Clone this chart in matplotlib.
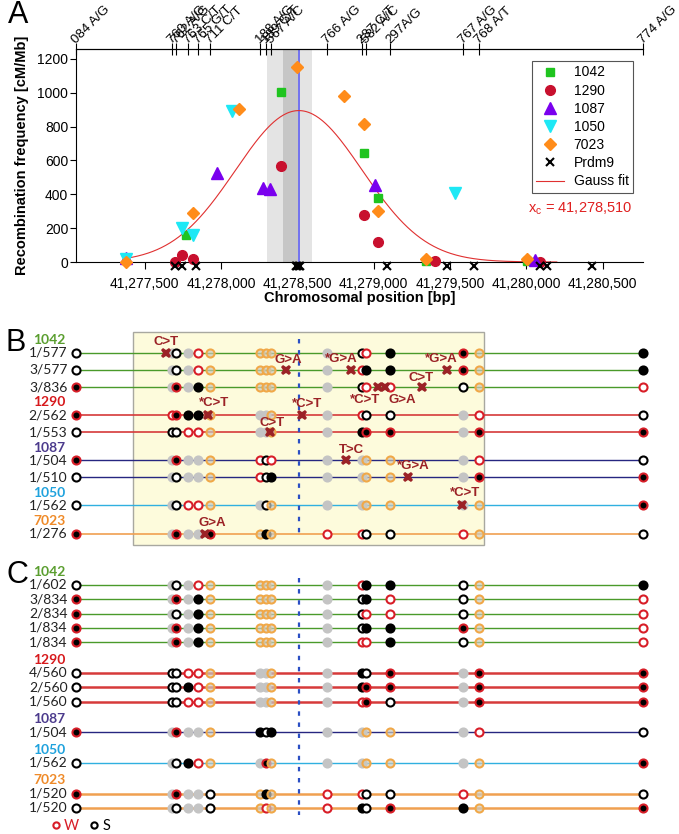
import matplotlib.pyplot as plt
import numpy as np
from matplotlib.lines import Line2D
from matplotlib.patches import Rectangle
from matplotlib.ticker import FuncFormatter

plt.rcParams['font.family'] = ['Liberation Sans', 'DejaVu Sans']
plt.rcParams['mathtext.fontset'] = 'custom'
plt.rcParams['mathtext.rm'] = 'Liberation Sans'

# ---- SNP markers (top axis of A, columns of B and C) ----
snp_pos = [41277052, 41277682, 41277707, 41277787, 41277847, 41277931,
           41278256, 41278295, 41278330, 41278693, 41278923, 41278953,
           41279107, 41279586, 41279690, 41280763]
snp_labels = ['084 A/G', '760 A/G', '762 A/G', '763 C/T', '765 G/T', '711 C/T',
              '188 A/G', '189 C/T', '567 A/C', '766 A/G', '287 C/T', '582 A/C',
              '297A/G', '767 A/G', '768 A/T', '774 A/G']
x_c = 41278510

# ---- panel A: recombination frequency per cross ----
pos_1042 = [41277773, 41278390, 41278934, 41279028, 41279344, 41280002]
rf_1042 = [162, 1002, 646, 376, 5, 5]
pos_1290 = [41277696, 41277746, 41277816, 41278390, 41278934, 41279028, 41279399, 41280089]
rf_1290 = [0, 40, 20, 569, 277, 119, 6, 0]
pos_1087 = [41277376, 41277975, 41278274, 41278320, 41279011, 41280056]
rf_1087 = [25, 528, 435, 429, 455, 10]
pos_1050 = [41277376, 41277746, 41277816, 41278074, 41279534]
rf_1050 = [15, 200, 158, 894, 409]
pos_7023 = [41277376, 41277816, 41278121, 41278499, 41278804, 41278934, 41279028,
            41279344, 41280006]
rf_7023 = [0, 290, 907, 1152, 979, 814, 300, 20, 20]
prdm9_pos = [41277696, 41277746, 41277838, 41278492, 41278500, 41278508, 41278516,
             41279087, 41279484, 41279658, 41280089, 41280139, 41280433]

gauss_amp = 895
gauss_sigma = 415
gauss_range = (41277376, 41280200)

# ---- panels B and C: haplotypes ----
# columns follow snp_pos; W red ring, S black ring, R red/black, B black,
# G grey (uninformative), O orange (not typed)
b_rows = [
    ('1042', '1/577', 'SGSGWOOOOGSWBROB'),
    ('1042', '3/577', 'SGSGWOOOOGWBBROB'),
    ('1042', '3/836', 'RGRGBOOOOGSWWSOW'),
    ('1290', '2/562', 'RWRBBOGGOGWSSGWS'),
    ('1290', '1/553', 'SSSWWOGGOGBRRGRR'),
    ('1087', '1/504', 'RGRGGOWSWGGOOGWS'),
    ('1087', '1/510', 'SGSGGOWSBGGOOGRR'),
    ('1050', '1/562', 'SGSWWOGSOGGOOGOR'),
    ('7023', '1/276', 'RGRGGROBOWWSSWOS'),
]
c_rows = [
    ('1042', '1/602', 'SGSGWOOOOGWBBSOB'),
    ('1042', '3/834', 'RGRGBOOOOGSBWSOW'),
    ('1042', '2/834', 'RGSGBOOOOGSWWSOW'),
    ('1042', '1/834', 'RGRGBOOOOGSBBROW'),
    ('1042', '1/834', 'RGRGBOOOOGWWBSOW'),
    ('1290', '4/560', 'SSSWWOGGOGBSRGRR'),
    ('1290', '2/560', 'SSSBWOGGOGBRRGRR'),
    ('1290', '1/560', 'SSSWWOGGOGWRSGRR'),
    ('1087', '1/504', 'RGRGGOBSBGGOOGWS'),
    ('1050', '1/562', 'SGSBWOGROGGOOGOR'),
    ('7023', '1/520', 'RGRGGSOBOWWSSWOS'),
    ('7023', '1/520', 'SGSGGSOWOWBSRBOR'),
]
# de novo mutations in B: row index, position, change
mut_row = [0, 1, 1, 1, 2, 2, 2, 3, 3, 4, 5, 6, 7, 8]
mut_pos = [41277638, 41278426, 41278850, 41279483, 41279031, 41279075, 41279315,
           41277917, 41278529, 41278318, 41278822, 41279222, 41279577, 41277897]
mut_text = ['C>T', 'G>A', '*G>A', '*G>A', '*C>T', 'G>A', 'C>T',
            '*C>T', '*C>T', 'C>T', 'T>C', '*G>A', '*C>T', 'G>A']
# label offsets in pixels (right, up)
mut_off = [(0, 11), (2, 10), (-9, 11), (-6, 11), (-13, -13), (17, -13), (-1, 9),
           (6, 12), (5, 11), (3, 9), (5, 10), (6, 11), (3, 12), (7, 10)]
box_bp = (41277425, 41279725)

group_colors = {'1042': '#5a9e2f', '1290': '#d7191c', '1087': '#4b3a8c',
                '1050': '#1fa2dd', '7023': '#ef8a28'}
line_colors = {'1042': '#4a9a2a', '1290': '#d63a3a', '1087': '#262680',
               '1050': '#30b0e0', '7023': '#f0a050'}
RED = '#d81e28'
styles = {
    'W': dict(mfc='white', mec=RED),
    'S': dict(mfc='white', mec='black'),
    'R': dict(mfc='black', mec=RED),
    'B': dict(mfc='black', mec='black'),
    'G': dict(mfc='#c4c4c4', mec='#c4c4c4'),
    'O': dict(mfc=(0.80, 0.79, 0.74, 0.7), mec='#f0a848'),
}

W, H = 679, 834
xlim = (41277050, 41280765)
fig = plt.figure(figsize=(W / 100, H / 100), dpi=100)

# ================= panel A =================
axA = fig.add_axes([76 / W, 1 - 262 / H, 567 / W, 213 / H])
axA.set_xlim(xlim)
axA.set_ylim(0, 1259)
axA.axvspan(41278302, 41278597, color='#e4e4e4', lw=0, zorder=0)
axA.axvspan(41278403, 41278505, color='#c6c6c6', lw=0, zorder=0)
axA.axvline(x_c, color='#6868f0', lw=1.3, zorder=1)

xg = np.linspace(gauss_range[0], gauss_range[1], 400)
yg = gauss_amp * np.exp(-(xg - x_c) ** 2 / (2 * gauss_sigma ** 2))

h1 = axA.plot(pos_1042, rf_1042, 's', color='#1fc41f', ms=5.8, ls='none', clip_on=False, zorder=3)[0]
h2 = axA.plot(pos_1290, rf_1290, 'o', color='#c8102e', ms=7.0, ls='none', clip_on=False, zorder=3)[0]
h3 = axA.plot(pos_1087, rf_1087, '^', color='#7a00ee', ms=8.0, ls='none', clip_on=False, zorder=3)[0]
h4 = axA.plot(pos_1050, rf_1050, 'v', color='#1ee8f5', ms=8.2, ls='none', clip_on=False, zorder=3)[0]
h5 = axA.plot(pos_7023, rf_7023, 'D', color='#ff8c1a', ms=6.2, ls='none', clip_on=False, zorder=3)[0]
h6 = axA.plot(prdm9_pos, [-22] * len(prdm9_pos), 'x', color='black', ms=6, mew=1.5,
              ls='none', clip_on=False, zorder=4)[0]
h7 = axA.plot(xg, yg, color='#e03030', lw=0.8, zorder=2)[0]

axA.set_xticks([41277500, 41278000, 41278500, 41279000, 41279500, 41280000, 41280500])
axA.xaxis.set_major_formatter(FuncFormatter(lambda v, p: f'{v:,.0f}'))
axA.set_yticks([0, 200, 400, 600, 800, 1000, 1200])
axA.tick_params(axis='x', length=5, width=0.8, pad=6, labelsize=10)
axA.tick_params(axis='y', length=4, width=0.8, pad=1.5, labelsize=10)
axA.spines['right'].set_visible(False)
axA.set_xlabel('Chromosomal position [bp]', fontsize=10.5, fontweight='bold')
axA.xaxis.set_label_coords(0.5, -0.135)
axA.set_ylabel('Recombination frequency [cM/Mb]', fontsize=10.5, fontweight='bold')
axA.yaxis.set_label_coords(-0.083, 0.5)

# SNP ticks on top
axT = axA.twiny()
axT.set_xlim(xlim)
axT.set_xticks(snp_pos)
axT.tick_params(axis='x', direction='inout', length=8, width=0.8, labeltop=False)
for s in ['left', 'right', 'bottom']:
    axT.spines[s].set_visible(False)
xtr = axA.get_xaxis_transform()
for p, lab in zip(snp_pos, snp_labels):
    axA.text(p, 1.025, lab, transform=xtr, rotation=45, rotation_mode='anchor',
             ha='left', va='baseline', fontsize=9.6, clip_on=False)

leg = axA.legend([h1, h2, h3, h4, h5, h6, h7],
                 ['1042', '1290', '1087', '1050', '7023', 'Prdm9', 'Gauss fit'],
                 loc='upper left', bbox_to_anchor=(0.792, 0.975), fontsize=10,
                 fancybox=False, framealpha=1, edgecolor='#555555',
                 labelspacing=0.3, borderpad=0.3, handlelength=2.0, handletextpad=0.7)
leg.get_frame().set_linewidth(0.8)
axA.text(0.797, 0.25, r'x$_\mathregular{c}$ = 41,278,510', color='#e02020',
         fontsize=10.5, transform=axA.transAxes, va='center')

# ================= panels B and C =================
axH = fig.add_axes([76 / W, 0, 567 / W, (H - 330) / H])
axH.set_xlim(xlim)
axH.set_ylim(H, 330)
axH.axis('off')
ytr = axH.get_yaxis_transform()


def layout(rows, first_label, label_gap, row_step, group_gap):
    ys, heads = [], []
    y = first_label
    prev = None
    for g, _, _ in rows:
        if g != prev:
            if prev is not None:
                y += group_gap - row_step
            heads.append((g, y))
            y += label_gap
            prev = g
        ys.append(y)
        y += row_step
    return ys, heads


def draw_rows(rows, ys, heads, lw_thick):
    for g, y in heads:
        axH.text(-0.076, y, g, transform=ytr, ha='left', va='center', fontsize=10,
                 fontweight='bold', color=group_colors[g], family=['Lato', 'DejaVu Sans'])
    for (g, name, geno), y in zip(rows, ys):
        axH.text(-0.015, y, name, transform=ytr, ha='right', va='center', fontsize=10,
                 color='#222222', family=['Lato', 'DejaVu Sans'])
        lw = lw_thick if g in ('1290', '7023') else 1.0
        axH.plot([snp_pos[0], snp_pos[-1]], [y, y], color=line_colors[g], lw=lw, zorder=2)
        for p, code in zip(snp_pos, geno):
            axH.plot(p, y, 'o', ms=5.8, mew=1.5, clip_on=False, zorder=4, **styles[code])


yb, hb = layout(b_rows, 340, 12.7, 17.2, 15.3)
yc, hc = layout(c_rows, 571.5, 13.3, 14.4, 17.3)

axH.add_patch(Rectangle((box_bp[0], 332), box_bp[1] - box_bp[0], yb[-1] + 11.5 - 332,
                        facecolor='#fdfbdc', edgecolor='#a8a8a0', lw=1, zorder=0))
axH.plot([x_c, x_c], [hb[0][1] - 1, yb[-1] + 5], color='#2b4fc4', lw=1.6,
         ls=(0, (2, 3)), zorder=3)
axH.plot([x_c, x_c], [yc[0] - 7, yc[-1] + 7], color='#2b4fc4', lw=1.6,
         ls=(0, (2, 3)), zorder=3)

draw_rows(b_rows, yb, hb, 1.2)
draw_rows(c_rows, yc, hc, 1.8)

for r, p, t, (dx, dy) in zip(mut_row, mut_pos, mut_text, mut_off):
    axH.plot(p, yb[r], 'X', color='#9b2226', ms=7.5, mew=0, zorder=6)
    axH.annotate(t, (p, yb[r]), xytext=(dx, dy), textcoords='offset pixels',
                 ha='center', va='center', fontsize=9.5, fontweight='bold',
                 color='#9b2226', zorder=7)

# W / S key
key = [Line2D([], [], marker='o', ls='none', ms=4.5, mew=1.5, **styles['W']),
       Line2D([], [], marker='o', ls='none', ms=4.5, mew=1.5, **styles['S'])]
kl = fig.legend(key, ['W', 'S'], ncol=2, loc='center left',
                bbox_to_anchor=(38 / W, 1 - 826.5 / H), frameon=False,
                handlelength=0.6, handletextpad=0.3, columnspacing=0.7,
                prop={'family': ['Lato', 'DejaVu Sans'], 'size': 10.5})
kl.get_texts()[0].set_color(RED)

fig.text(8 / W, 1 - 15 / H, 'A', fontsize=22, va='center', ha='left')
fig.text(6 / W, 1 - 343 / H, 'B', fontsize=22, va='center', ha='left')
fig.text(6 / W, 1 - 575 / H, 'C', fontsize=22, va='center', ha='left')

fig.savefig('out.png', dpi=100)
